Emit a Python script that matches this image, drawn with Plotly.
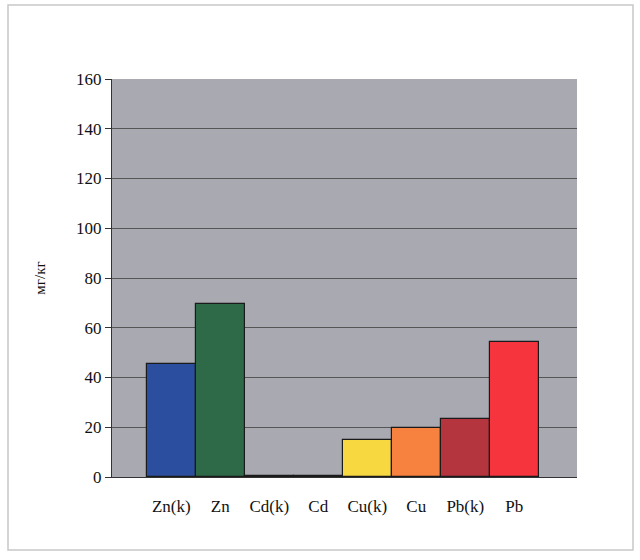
import plotly.graph_objects as go

categories = ["Zn(k)", "Zn", "Cd(k)", "Cd", "Cu(k)", "Cu", "Pb(k)", "Pb"]
values = [45.6, 69.7, 0.5, 0.4, 15.0, 19.7, 23.5, 54.1]
colors = ["#2b4f9e", "#2f6a48", "#2a2a3a", "#2a2a3a", "#f7d840", "#f7813e", "#b5353e", "#f5343e"]
y_ticks = [0, 20, 40, 60, 80, 100, 120, 140, 160]

fig = go.Figure()
fig.add_trace(go.Bar(
    x=list(range(len(categories))), y=values,
    marker=dict(color=colors, line=dict(color="#1a1a1a", width=1.2)),
    width=1.0,
))

fig.update_layout(
    width=640, height=560,
    margin=dict(l=112, r=63, t=79, b=83),
    paper_bgcolor="white",
    plot_bgcolor="#a9a9b1",
    font=dict(family="Liberation Serif", size=17, color="#111"),
    showlegend=False,
    bargap=0,
    shapes=[dict(type="rect", xref="paper", yref="paper",
                 x0=-104/465, x1=(633-112)/465, y0=-(550-477)/398, y1=1+(79-5)/398,
                 line=dict(color="#c8c8c8", width=1.5), fillcolor="rgba(0,0,0,0)", layer="below")],
)
fig.update_xaxes(
    tickmode="array", tickvals=list(range(len(categories))), ticktext=categories,
    range=[-1.21, 8.28], showgrid=False, zeroline=False,
    showline=True, linecolor="#333", linewidth=1, ticks="", ticklabelstandoff=14,
)
fig.update_yaxes(
    range=[0, 160], tickvals=y_ticks, showgrid=True, gridcolor="#555",
    gridwidth=1, zeroline=False, showline=True, linecolor="#333", linewidth=1,
    ticks="outside", ticklen=6, tickcolor="#333",
    title=dict(text="мг/кг", font=dict(size=15), standoff=26),
)
fig.write_html("out.html")
